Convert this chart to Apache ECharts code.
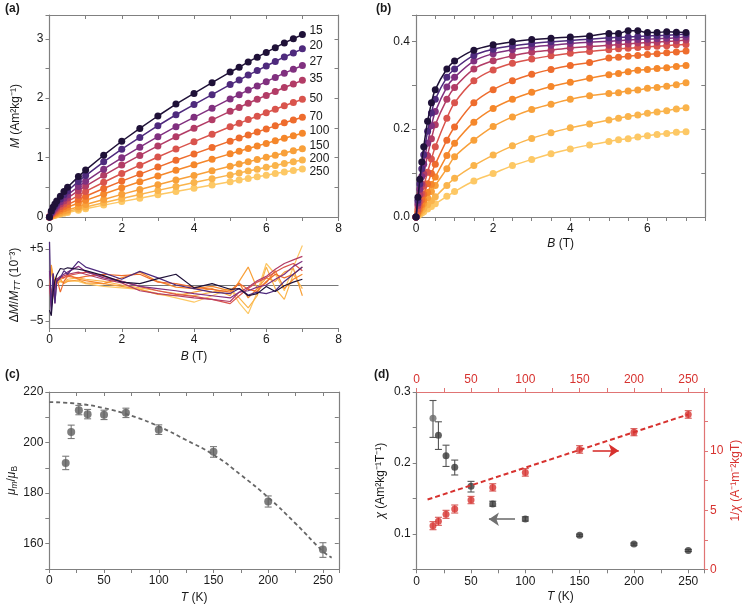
<!DOCTYPE html>
<html><head><meta charset="utf-8">
<script src="https://cdn.jsdelivr.net/npm/echarts@6/dist/echarts.min.js"></script>
<style>html,body{margin:0;padding:0;background:#fff}#c{width:745px;height:607px}</style>
</head><body><div id="c"></div>
<script>
// ---------- DATA ----------
const temps = ['15','20','27','35','50','70','100','150','200','250'];
const fields = [0,0.05,0.1,0.15,0.2,0.3,0.4,0.5,0.8,1,1.5,2,2.5,3,3.5,4,4.5,5,5.25,5.5,5.75,6,6.25,6.5,6.75,7];

// panel (a): M (Am2/kg)
const mA15  = [0,0.10,0.17,0.22,0.27,0.35,0.43,0.50,0.68,0.79,1.04,1.275,1.49,1.70,1.90,2.08,2.26,2.44,2.52,2.61,2.69,2.77,2.85,2.93,3.00,3.07];
const mA20  = [0,0.086,0.146,0.190,0.234,0.305,0.375,0.438,0.599,0.698,0.928,1.142,1.340,1.536,1.721,1.892,2.059,2.229,2.305,2.389,2.465,2.541,2.617,2.694,2.761,2.83];
const mA27  = [0,0.071,0.121,0.158,0.195,0.256,0.317,0.371,0.513,0.600,0.804,0.996,1.175,1.352,1.521,1.677,1.832,1.988,2.059,2.136,2.207,2.278,2.350,2.421,2.485,2.55];
const mA35  = [0,0.059,0.102,0.134,0.165,0.218,0.270,0.318,0.443,0.520,0.702,0.874,1.036,1.197,1.350,1.493,1.635,1.778,1.844,1.915,1.981,2.047,2.113,2.179,2.239,2.30];
const mA50  = [0,0.047,0.081,0.107,0.133,0.176,0.220,0.259,0.364,0.430,0.585,0.732,0.872,1.010,1.143,1.268,1.393,1.518,1.576,1.639,1.696,1.755,1.813,1.872,1.926,1.98];
const mA70  = [0,0.036,0.063,0.084,0.105,0.140,0.175,0.208,0.295,0.349,0.479,0.604,0.722,0.840,0.954,1.062,1.169,1.277,1.328,1.382,1.432,1.483,1.534,1.585,1.632,1.68];
const mA100 = [0,0.028,0.049,0.065,0.081,0.110,0.138,0.164,0.235,0.280,0.388,0.492,0.592,0.691,0.787,0.879,0.971,1.063,1.107,1.153,1.196,1.239,1.283,1.327,1.368,1.41];
const mA150 = [0,0.018,0.033,0.045,0.057,0.078,0.099,0.119,0.174,0.210,0.296,0.381,0.462,0.544,0.623,0.700,0.777,0.854,0.891,0.930,0.966,1.004,1.041,1.078,1.114,1.15];
const mA200 = [0,0.014,0.026,0.035,0.045,0.062,0.079,0.095,0.140,0.170,0.241,0.312,0.380,0.448,0.514,0.579,0.644,0.709,0.740,0.773,0.804,0.836,0.867,0.899,0.929,0.96];
const mA250 = [0,0.011,0.020,0.028,0.036,0.050,0.064,0.077,0.115,0.140,0.200,0.259,0.316,0.374,0.430,0.485,0.540,0.595,0.622,0.650,0.677,0.704,0.731,0.758,0.784,0.81];

// panel (a) residuals, units of 1e-3
const rA15  = [-3.5,-4.3,-1.0,0.6,1.4,2.3,2.2,2.4,2.2,2.0,1.3,0.4,0.2,0.9,1.5,-0.4,0.2,-0.6,-0.5,-1.5,-1.2,-0.2,-0.9,-0.1,0.4,0.8];
const rA20  = [6.0,-4.0,1.6,-2.5,0.5,1.0,2.0,1.5,3.3,2.5,1.7,0.8,1.9,1.0,0.0,-0.5,-1.0,-1.2,-0.5,-1.4,-1.0,-1.2,-0.8,0.5,1.5,2.5];
const rA27  = [2.0,-3.5,1.6,-2.6,0.8,1.2,1.5,1.8,2.6,1.9,1.0,0.5,-0.2,-0.5,-0.8,-1.2,-1.5,-1.8,-1.0,-0.8,-0.3,0.0,0.8,1.5,2.6,3.3];
const rA35  = [0,-3.0,-1.5,-0.5,0.5,1.0,1.3,1.5,1.8,1.5,0.8,0.3,-0.8,-1.2,-1.5,-1.8,-2.0,-2.3,-1.0,-0.3,0.6,1.2,2.2,3.0,3.5,4.0];
const rA50  = [0,-2.5,-1.2,-0.2,0.5,1.2,1.0,1.3,1.6,1.8,1.2,0.5,-0.2,-0.8,-1.3,-1.6,-2.0,-2.6,-1.5,-0.5,0.4,1.0,1.8,2.5,3.0,2.0];
const rA70  = [0,-1.5,-0.5,0.3,1.0,-1.0,0.5,1.2,1.0,1.2,1.5,1.3,1.5,0.4,0.2,-0.3,-0.6,-1.0,0.2,-0.6,-0.9,0.5,1.5,1.0,1.5,2.5];
const rA100 = [0,-1.0,0.3,0.8,0.5,0.8,1.0,1.5,0.8,0.6,0.2,1.0,1.8,0.5,-0.3,-0.5,-0.2,-0.8,0.3,-1.8,-0.5,0.3,2.0,-0.5,0.8,1.5];
const rA150 = [0,2.8,1.0,0.3,0.5,0.8,0.2,0.5,0.7,0.3,0.2,-0.2,-0.6,-1.3,-1.5,-1.0,-0.5,-1.5,0.5,2.5,-0.5,1.0,0.5,1.8,2.3,-1.5];
const rA200 = [0,2.0,0.5,-0.2,0.3,0.5,0.3,0.8,1.0,0.8,0.5,0.0,-0.4,-0.8,-1.2,-1.5,-1.0,-0.5,-1.8,-3.2,-1.5,2.5,-0.5,-2.0,1.5,-0.5];
const rA250 = [0,2.5,1.5,0.8,0.2,0.5,0.3,0.6,0.5,0.2,-0.2,-0.4,-0.6,-1.2,-1.8,-2.4,-1.5,-0.5,-2.5,-4.0,-1.0,3.0,1.5,-0.8,2.5,5.5];

// panel (b)
const mB15  = [0,0.045,0.086,0.125,0.16,0.218,0.26,0.29,0.337,0.355,0.38,0.392,0.399,0.404,0.407,0.41,0.412,0.418,0.418,0.424,0.424,0.42,0.42,0.422,0.421,0.42];
const mB20  = [0,0.038,0.075,0.11,0.142,0.195,0.237,0.268,0.318,0.337,0.368,0.382,0.39,0.395,0.399,0.402,0.405,0.408,0.409,0.41,0.411,0.412,0.413,0.414,0.415,0.416];
const mB27  = [0,0.032,0.063,0.092,0.12,0.168,0.208,0.24,0.296,0.318,0.355,0.372,0.381,0.387,0.391,0.395,0.398,0.4,0.402,0.403,0.404,0.405,0.406,0.407,0.408,0.41];
const mB35  = [0,0.026,0.051,0.075,0.098,0.14,0.178,0.21,0.268,0.295,0.337,0.356,0.367,0.375,0.38,0.385,0.388,0.391,0.393,0.394,0.396,0.397,0.398,0.4,0.401,0.403];
const mB50  = [0,0.018,0.036,0.053,0.07,0.102,0.132,0.16,0.225,0.26,0.31,0.335,0.35,0.36,0.367,0.373,0.377,0.381,0.383,0.384,0.386,0.387,0.389,0.39,0.392,0.393];
const mB70  = [0,0.013,0.026,0.039,0.052,0.076,0.099,0.12,0.175,0.205,0.26,0.29,0.31,0.325,0.336,0.345,0.352,0.362,0.364,0.366,0.368,0.37,0.372,0.374,0.376,0.378];
const mB100 = [0,0.0095,0.019,0.028,0.038,0.056,0.074,0.091,0.14,0.168,0.216,0.247,0.268,0.284,0.297,0.307,0.316,0.324,0.327,0.331,0.334,0.336,0.338,0.34,0.343,0.345];
const mB150 = [0,0.0075,0.015,0.022,0.03,0.044,0.058,0.072,0.11,0.137,0.175,0.206,0.228,0.245,0.257,0.268,0.276,0.281,0.283,0.287,0.289,0.293,0.295,0.298,0.301,0.306];
const mB200 = [0,0.005,0.0095,0.014,0.019,0.028,0.037,0.046,0.072,0.088,0.117,0.141,0.162,0.179,0.192,0.203,0.212,0.221,0.225,0.229,0.232,0.236,0.239,0.242,0.246,0.249];
const mB250 = [0,0.003,0.006,0.009,0.012,0.018,0.024,0.03,0.047,0.058,0.082,0.099,0.117,0.131,0.144,0.155,0.164,0.172,0.176,0.178,0.182,0.185,0.188,0.19,0.193,0.194];

// panel (c)
const tempC = [15,20,27,35,50,70,100,150,200,250];
const muC   = [191.9,204.2,212.8,211.2,211.0,211.8,205.1,196.4,176.7,157.7];
const muLo  = [189.3,201.6,211.0,209.4,209.1,209.9,203.2,194.2,174.5,154.6];
const muHi  = [194.6,206.9,214.7,213.1,212.8,213.6,207.0,198.4,178.9,160.4];
const fitCT = [0,25,50,75,100,125,150,175,200,225,250,258];
const fitCV = [216,215.4,213.6,210.6,206.4,201,195.2,187.2,178.3,168,157,154.5];

// panel (d)
const tempD  = [15,20,27,35,50,70,100,150,200,250];
const chiD   = [0.263,0.239,0.210,0.194,0.167,0.142,0.121,0.098,0.0855,0.0766];
const chiLo  = [0.236,0.219,0.195,0.183,0.159,0.139,0.118,0.0965,0.084,0.0752];
const chiHi  = [0.288,0.258,0.225,0.204,0.174,0.146,0.124,0.0995,0.087,0.078];
const invD   = [3.69,4.06,4.65,5.10,5.86,6.93,8.20,10.14,11.6,13.1];
const invLo  = [3.35,3.72,4.31,4.76,5.55,6.62,7.88,9.82,11.3,12.78];
const invHi  = [4.03,4.40,4.99,5.44,6.17,7.24,8.52,10.46,11.9,13.42];
const fitDT  = [10,250];
const fitDV  = [5.9,13.1];

// ---------- STYLE ----------
const colors = ['#1f1138','#4e2a7d','#80307f','#b23c66','#d9544d','#ee6c2d','#f5872b','#f8a03a','#fab44c','#fdc865'];
const labelShift = [-4,-3,-4,-2,-1,-1,-3,-3,-1,3];
const FONT = 'Liberation Sans, Arial, Helvetica, sans-serif';
const AX = '#808080';
const TXT = '#1a1a1a';
const RED = '#d7322f';
const RED_AX = '#e07474';

const mA = [mA15,mA20,mA27,mA35,mA50,mA70,mA100,mA150,mA200,mA250];
const rA = [rA15,rA20,rA27,rA35,rA50,rA70,rA100,rA150,rA200,rA250];
const mB = [mB15,mB20,mB27,mB35,mB50,mB70,mB100,mB150,mB200,mB250];
const zip = (xs, ys) => ys.map((v, i) => [xs[i], v]);

const rich = {
  i: {fontStyle: 'italic', fontSize: 12, fontFamily: FONT, color: TXT, lineHeight: 16},
  isub: {fontStyle: 'italic', fontSize: 8.5, fontFamily: FONT, color: TXT, verticalAlign: 'bottom', lineHeight: 9},
  sub: {fontSize: 8.5, fontFamily: FONT, color: TXT, verticalAlign: 'bottom', lineHeight: 9},
  ri: {fontStyle: 'italic', fontSize: 12, fontFamily: FONT, color: RED, lineHeight: 16}
};
function nts(color) { return {color: color || TXT, fontSize: 12, fontFamily: FONT, lineHeight: 16, rich: rich}; }

function axisMain(o) {
  const c = o.color || AX;
  return {
    type: 'value', gridIndex: o.grid, min: o.min, max: o.max, interval: o.interval,
    position: o.position,
    splitLine: {show: false},
    axisLine: {show: true, onZero: false, lineStyle: {color: c, width: 1.2}},
    axisTick: {show: true, inside: !!o.inside, length: 4, lineStyle: {color: c, width: 1}},
    axisLabel: {show: !!o.fmt, formatter: o.fmt, color: o.labelColor || TXT, fontSize: 12, fontFamily: FONT, margin: o.margin || 6,
      showMinLabel: true, showMaxLabel: true},
    name: o.name, nameLocation: 'middle', nameGap: o.nameGap, nameRotate: o.nameRotate,
    nameTextStyle: nts(o.nameColor)
  };
}
const evenFmt = v => (Math.abs(v / 2 - Math.round(v / 2)) < 1e-6 ? String(Math.round(v)) : '');
const intFmt = v => (Math.abs(v - Math.round(v)) < 1e-6 ? String(Math.round(v)) : '');
const b02Fmt = v => { const k = v / 0.2; return Math.abs(k - Math.round(k)) < 1e-6 ? v.toFixed(1) : ''; };
const t50Fmt = v => (Math.abs(v / 50 - Math.round(v / 50)) < 1e-6 ? String(Math.round(v)) : '');
const mu20Fmt = v => (Math.abs(v / 20 - Math.round(v / 20)) < 1e-6 ? String(Math.round(v)) : '');
const chiFmt = v => { const k = v * 10; return Math.abs(k - Math.round(k)) < 1e-6 ? v.toFixed(1) : ''; };
const invFmt = v => (Math.abs(v / 5 - Math.round(v / 5)) < 1e-6 && v < 14 ? String(Math.round(v)) : '');

const grid = [
  {left: 49.5, top: 15, width: 289, height: 202},
  {left: 49.5, top: 242, width: 289, height: 86},
  {left: 416, top: 15, width: 289.3, height: 202},
  {left: 49.3, top: 392, width: 289.5, height: 177.3},
  {left: 416.7, top: 392, width: 288, height: 177.3}
];

const TMAX = 264.5;
const xAxis = [
  axisMain({grid: 0, min: 0, max: 8, interval: 1, fmt: evenFmt}),
  axisMain({grid: 0, min: 0, max: 8, interval: 1, position: 'top', inside: true}),
  axisMain({grid: 1, min: 0, max: 8, interval: 1, fmt: evenFmt, name: '{i|B} (T)', nameGap: 21}),
  axisMain({grid: 2, min: 0, max: 7.5, interval: 0.5, fmt: evenFmt, name: '{i|B} (T)', nameGap: 18}),
  axisMain({grid: 2, min: 0, max: 7.5, interval: 0.5, position: 'top', inside: true}),
  axisMain({grid: 3, min: 0, max: TMAX, interval: 25, fmt: t50Fmt, name: '{i|T} (K)', nameGap: 21}),
  axisMain({grid: 3, min: 0, max: TMAX, interval: 25, position: 'top', inside: true}),
  axisMain({grid: 4, min: 0, max: TMAX, interval: 25, fmt: t50Fmt, name: '{i|T} (K)', nameGap: 19}),
  axisMain({grid: 4, min: 0, max: TMAX, interval: 25, position: 'top', fmt: t50Fmt, color: RED_AX, labelColor: RED})
];
const yAxis = [
  axisMain({grid: 0, min: 0, max: 3.4, interval: 0.5, fmt: intFmt, name: '{i|M} (Am²kg⁻¹)', nameGap: 26, nameRotate: 90}),
  axisMain({grid: 0, min: 0, max: 3.4, interval: 0.5, position: 'right', inside: true}),
  axisMain({grid: 1, min: -6, max: 6, interval: 1, name: 'Δ{i|M}/{i|M}{isub|TT} (10⁻³)', nameGap: 27, nameRotate: 90,
    fmt: v => (v === 5 ? '+5' : v === -5 ? '−5' : v === 0 ? '0' : '')}),
  axisMain({grid: 2, min: 0, max: 0.46, interval: 0.1, fmt: b02Fmt}),
  axisMain({grid: 2, min: 0, max: 0.46, interval: 0.1, position: 'right', inside: true}),
  axisMain({grid: 3, min: 150, max: 220, interval: 10, fmt: mu20Fmt, name: '{i|μ}{isub|m}/{i|μ}{sub|B}', nameGap: 28, nameRotate: 90}),
  axisMain({grid: 3, min: 150, max: 220, interval: 10, position: 'right', inside: true}),
  axisMain({grid: 4, min: 0.05, max: 0.3, interval: 0.05, fmt: chiFmt, name: '{i|χ} (Am²kg⁻¹T⁻¹)', nameGap: 28, nameRotate: 90}),
  axisMain({grid: 4, min: 0, max: 15, interval: 2.5, position: 'right', fmt: invFmt, color: RED_AX, labelColor: RED,
    name: '1/{ri|χ} (A⁻¹m⁻²kgT)', nameGap: 24, nameRotate: 90, nameColor: RED})
];
// residual axis: ticks only at -5, 0, +5
yAxis[2].axisTick.customValues = [-5, 0, 5];
yAxis[2].axisLabel.customValues = [-5, 0, 5];

function errRender(params, api) {
  const x = api.value(0), lo = api.value(1), hi = api.value(2);
  const p1 = api.coord([x, hi]), p2 = api.coord([x, lo]);
  const w = 3.5;
  const style = {stroke: api.visual('color'), lineWidth: 1.1};
  return {type: 'group', children: [
    {type: 'line', shape: {x1: p1[0], y1: p1[1], x2: p2[0], y2: p2[1]}, style: style},
    {type: 'line', shape: {x1: p1[0] - w, y1: p1[1], x2: p1[0] + w, y2: p1[1]}, style: style},
    {type: 'line', shape: {x1: p2[0] - w, y1: p2[1], x2: p2[0] + w, y2: p2[1]}, style: style}
  ]};
}

const series = [];
// panel (a)
temps.forEach((t, k) => {
  series.push({
    type: 'line', xAxisIndex: 0, yAxisIndex: 0, data: zip(fields, mA[k]),
    symbol: 'circle', symbolSize: 7, showSymbol: true, z: 20 - k,
    lineStyle: {color: colors[k], width: 1.5}, itemStyle: {color: colors[k]},
    endLabel: {show: true, formatter: t, color: TXT, fontSize: 12, fontFamily: FONT, distance: 7, offset: [0, labelShift[k]]},
    animation: false, silent: true
  });
});
// residuals
temps.forEach((t, k) => {
  const s = {
    type: 'line', xAxisIndex: 2, yAxisIndex: 2, data: zip(fields, rA[k]),
    symbol: 'none', z: 20 - k,
    lineStyle: {color: colors[k], width: 1.2}, animation: false, silent: true
  };
  if (k === 0) {
    s.markLine = {silent: true, symbol: 'none', label: {show: false}, lineStyle: {color: '#777', width: 1, type: 'solid'},
      data: [{yAxis: 0}], z: 1};
  }
  series.push(s);
});
// panel (b)
temps.forEach((t, k) => {
  series.push({
    type: 'line', xAxisIndex: 3, yAxisIndex: 3, data: zip(fields, mB[k]), smooth: 0.35,
    symbol: 'circle', symbolSize: 7, showSymbol: true, z: 20 - k,
    lineStyle: {color: colors[k], width: 1.5}, itemStyle: {color: colors[k]},
    animation: false, silent: true
  });
});
// panel (c)
series.push({type: 'line', xAxisIndex: 5, yAxisIndex: 5, data: zip(fitCT, fitCV), smooth: true, symbol: 'none',
  lineStyle: {color: '#666', width: 1.8, type: [4, 3]}, animation: false, silent: true});
series.push({type: 'custom', xAxisIndex: 5, yAxisIndex: 5, renderItem: errRender,
  data: tempC.map((t, i) => [t, muLo[i], muHi[i]]), encode: {x: 0, y: [1, 2]},
  itemStyle: {color: '#7a7a7a'}, animation: false, silent: true});
series.push({type: 'scatter', xAxisIndex: 5, yAxisIndex: 5, data: zip(tempC, muC), symbolSize: 8,
  itemStyle: {color: '#5e5e5e'}, animation: false, silent: true});
// panel (d)
series.push({type: 'line', xAxisIndex: 7, yAxisIndex: 8, data: zip(fitDT, fitDV), symbol: 'none',
  lineStyle: {color: RED, width: 2, type: [5, 3]}, animation: false, silent: true,
  markLine: {silent: true, symbol: ['none', 'arrow'], symbolSize: 10, label: {show: false},
    lineStyle: {color: RED, width: 1.6, type: 'solid'},
    data: [[{coord: [162, 10.03]}, {coord: [186, 10.03]}]]}});
series.push({type: 'custom', xAxisIndex: 7, yAxisIndex: 8, renderItem: errRender,
  data: tempD.map((t, i) => [t, invLo[i], invHi[i]]), encode: {x: 0, y: [1, 2]},
  itemStyle: {color: '#d65a57'}, animation: false, silent: true});
series.push({type: 'scatter', xAxisIndex: 7, yAxisIndex: 8, data: zip(tempD, invD), symbolSize: 7,
  itemStyle: {color: RED}, animation: false, silent: true});
series.push({type: 'custom', xAxisIndex: 7, yAxisIndex: 7, renderItem: errRender,
  data: tempD.map((t, i) => [t, chiLo[i], chiHi[i]]), encode: {x: 0, y: [1, 2]},
  itemStyle: {color: '#555'}, animation: false, silent: true});
series.push({type: 'scatter', xAxisIndex: 7, yAxisIndex: 7,
  data: zip(tempD, chiD).map((p, i) => (i === 0 ? {value: p, itemStyle: {color: '#6a6a6a'}} : p)), symbolSize: 7,
  itemStyle: {color: '#3a3a3a'}, animation: false, silent: true,
  markLine: {silent: true, symbol: ['none', 'arrow'], symbolSize: 10, label: {show: false},
    lineStyle: {color: '#707070', width: 1.6, type: 'solid'},
    data: [[{coord: [90.5, 0.1206]}, {coord: [66.5, 0.1206]}]]}});

const panelLabel = (txt, x, y) => ({type: 'text', left: x, top: y,
  style: {text: txt, fill: TXT, font: 'bold 12px ' + FONT}});

const chart = echarts.init(document.getElementById('c'), null, {renderer: 'canvas'});
chart.setOption({
  animation: false,
  backgroundColor: '#fff',
  textStyle: {fontFamily: FONT},
  grid: grid,
  xAxis: xAxis,
  yAxis: yAxis,
  series: series,
  graphic: [
    panelLabel('(a)', 5, 3),
    panelLabel('(b)', 376, 3),
    panelLabel('(c)', 5, 369),
    panelLabel('(d)', 374, 369)
  ]
});
</script></body></html>
